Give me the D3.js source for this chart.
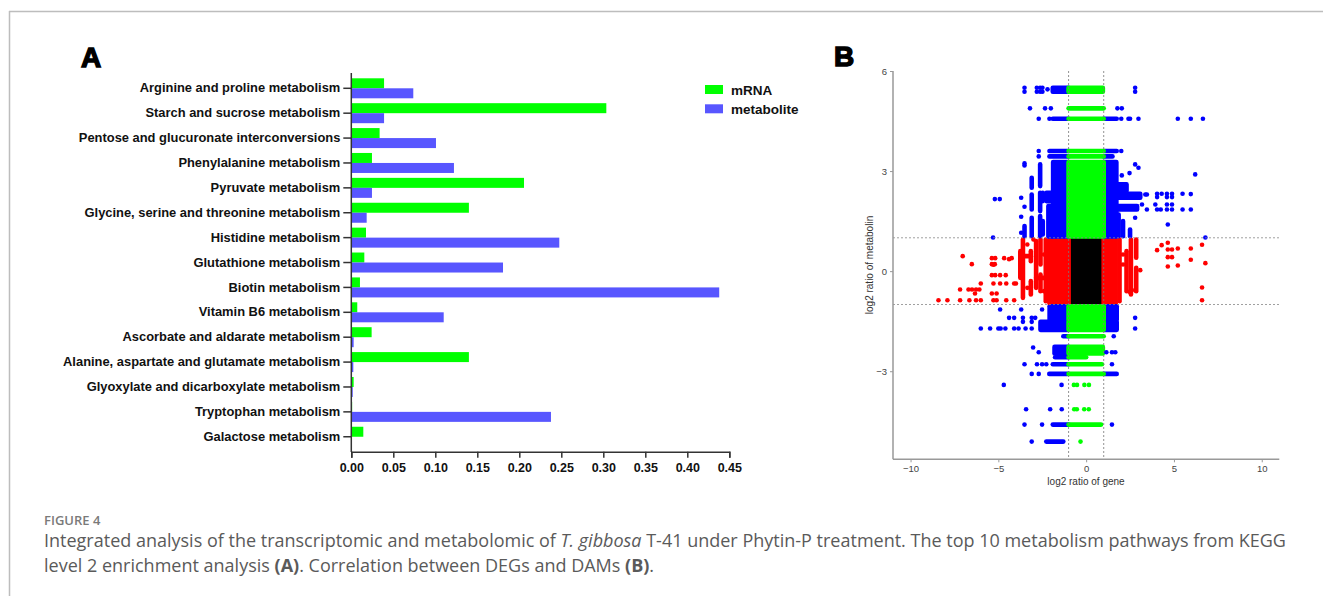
<!DOCTYPE html>
<html><head><meta charset="utf-8">
<script src="https://cdn.jsdelivr.net/npm/d3@7"></script>
<style>body{margin:0;background:#fff}svg{display:block}</style>
</head><body>
<svg id="fig" width="1323" height="596"></svg>
<script>
// ---------- Panel A data ----------
const categories = ["Arginine and proline metabolism","Starch and sucrose metabolism","Pentose and glucuronate interconversions","Phenylalanine metabolism","Pyruvate metabolism","Glycine, serine and threonine metabolism","Histidine metabolism","Glutathione metabolism","Biotin metabolism","Vitamin B6 metabolism","Ascorbate and aldarate metabolism","Alanine, aspartate and glutamate metabolism","Glyoxylate and dicarboxylate metabolism","Tryptophan metabolism","Galactose metabolism"];
const mrnaValues = [0.039,0.3036,0.0337,0.0246,0.2056,0.140,0.0175,0.0155,0.0103,0.0071,0.0242,0.140,0.0028,0.001,0.0143];
const metaboliteValues = [0.0738,0.039,0.1008,0.1222,0.0246,0.0183,0.2476,0.1806,0.438,0.110,0.0028,0.0024,0.0017,0.2377,0];
const xTicksA = [0,0.05,0.10,0.15,0.20,0.25,0.30,0.35,0.40,0.45];
const legendLabels = ["mRNA","metabolite"];

// ---------- Panel B data ----------
const xTicksB = [-10,-5,0,5,10];
const yTicksB = [-3,0,3,6];
const thresholds = [-1,1];
// dense clusters of overlapping points: [x0, x1, y0, y1]
const denseBlocks = [
  [-1.9,0.95,5.38,5.5],[-1.0,1.0,4.88,4.88],[-1.9,1.74,4.57,4.57],
  [-2.09,1.74,3.6,3.6],[-2.09,1.5,3.44,3.44],
  [-1.88,1.72,1.04,3.27],
  [-2.26,-1.88,2.1,2.35],[-2.15,-1.88,1.04,1.95],
  [-2.62,-2.62,1.05,1.65],[-2.62,-2.62,1.8,2.35],[-2.62,-2.62,2.55,3.2],
  [-2.47,-2.47,1.1,1.5],[-2.47,-2.47,2.1,2.35],
  [-3.1,-3.1,1.05,1.6],[-3.1,-3.1,1.85,2.3],[-3.1,-3.1,2.5,2.8],
  [-3.51,-3.51,1.05,1.35],
  [1.72,3.08,2.2,2.32],[1.72,2.9,1.85,1.95],[1.72,2.3,2.4,2.6],
  [1.85,1.85,1.05,1.7],[2.1,2.1,1.05,1.5],[2.5,2.5,1.05,1.25],
  // middle band
  [-2.05,1.68,-0.97,0.97],
  [-2.3,-2.3,-0.9,0.95],[-2.6,-2.6,0.2,0.95],[-2.6,-2.6,-0.6,-0.1],
  [-2.85,-2.85,-0.5,0.9],[-3.15,-3.15,0.3,0.6],[-3.15,-3.15,-0.7,-0.3],
  [-3.6,-3.6,-0.8,0.95],[-3.75,-3.75,-0.2,0.6],
  [-3.6,-3.15,0.45,0.45],[-2.85,-2.3,-0.2,-0.2],
  [1.9,1.9,-0.9,0.95],[2.3,2.3,-0.6,0.6],
  [2.55,2.55,-0.7,0.95],[2.85,2.85,0.4,0.95],[2.85,2.85,-0.6,0.1],
  // lower
  [-2.08,1.74,-1.45,-1.05],[-2.6,1.74,-1.76,-1.52],[-1.3,1.0,-1.95,-1.95],
  [-1.8,0.95,-2.47,-2.27],[-1.77,0.0,-2.58,-2.58],[-1.9,0.9,-2.79,-2.79],
  [-2.1,1.74,-3.08,-3.08],[-1.9,0.85,-4.6,-4.6],[-2.27,-1.3,-5.11,-5.11]
];
// isolated points: [x, y]
const sparsePoints = [
  [-3.51,5.5],[-3.51,5.38],[-2.81,5.5],[-2.81,5.38],[-2.62,5.5],[-2.62,5.38],[-2.49,5.5],[-2.49,5.38],[-2.2,5.45],[2.79,5.5],[2.79,5.38],
  [-3.2,4.88],[-2.34,4.88],[-2.01,4.88],[1.78,4.88],[2.03,4.88],
  [-2.7,4.57],[-2.09,4.57],[2.0,4.57],[2.41,4.57],[2.5,4.57],[2.98,4.57],[5.22,4.57],[5.96,4.57],[6.65,4.57],
  [-2.7,3.6],[2.0,3.6],[-2.7,3.44],
  [2.79,3.2],[2.98,3.1],[2.47,2.94],[2.03,2.87],[6.21,2.9],
  [2.89,2.3],[3.37,2.3],[3.46,2.3],[4.04,2.32],[4.3,2.32],[4.6,2.32],[4.89,2.32],[5.49,2.32],[5.96,2.31],
  [4.04,2.22],[4.6,2.22],[4.89,2.22],[3.18,2.0],[3.94,2.0],[4.6,2.0],[4.89,2.0],
  [3.46,1.85],[4.04,1.85],[4.25,1.85],[4.6,1.85],[4.89,1.85],[5.49,1.85],[5.96,1.85],
  [2.79,1.6],[4.65,1.4],[6.79,1.01],
  [-5.3,1.01],[-5.2,2.16],[-4.92,2.16],[-3.7,2.2],[-3.7,1.63],[-3.51,1.93],[-3.51,3.23],[-3.51,3.17],[-3.7,1.15],
  // middle band
  [-7.03,0.45],[-6.51,0.21],[-5.37,0.39],[-5.18,0.39],[-4.67,0.39],[-4.39,0.36],[-4.24,0.39],[-5.37,0.21],[-5.2,0.21],
  [4.04,0.63],[4.3,0.78],[4.65,0.85],[4.65,0.65],[4.89,0.65],[5.22,0.68],[5.96,0.68],[6.6,0.79],
  [4.65,0.42],[4.89,0.42],[5.96,0.34],[6.79,0.24],[4.65,0.14],[5.22,0.17],
  [-8.41,-0.87],[-7.9,-0.87],[-7.18,-0.55],[-7.18,-0.87],[-6.7,-0.55],[-6.5,-0.55],[-6.27,-0.55],[-6.08,-0.55],
  [-6.33,-0.67],[-6.0,-0.37],[-6.65,-0.87],[-6.27,-0.87],[-6.0,-0.87],[-5.28,0.19],
  [-5.37,-0.12],[-5.18,-0.12],[-4.9,-0.12],[-4.58,-0.12],[-5.28,-0.37],[-4.9,-0.37],[-4.55,-0.37],[-4.1,-0.37],[-4.0,-0.37],
  [-5.37,-0.67],[-5.1,-0.67],[-5.28,-0.87],[-5.1,-0.87],[-4.55,-0.87],[-4.1,-0.87],
  [-3.35,0.8],[-3.35,-0.5],[-2.4,-0.6],[-2.4,0.5],[-3.0,0.95],[-2.1,-0.95],
  [6.6,-0.49],[6.6,-0.87],[3.08,0.03],[2.47,-0.62],[2.79,-0.57],[2.1,0.5],[2.1,0.2],
  // lower
  [-4.9,-1.15],[-3.7,-1.15],[-2.51,-1.15],
  [-4.39,-1.4],[-4.1,-1.4],[-3.6,-1.4],[-3.1,-1.4],[-2.9,-1.4],[2.79,-1.4],
  [-3.6,-1.52],[-3.1,-1.52],
  [-6.0,-1.72],[-5.47,-1.72],[-5.0,-1.72],[-4.87,-1.72],[-4.6,-1.72],[-4.1,-1.72],[-3.85,-1.72],[-3.45,-1.72],[-3.1,-1.72],[2.79,-1.72],
  [1.57,-1.95],[-3.02,-2.29],[0.9,-2.29],
  [-2.7,-2.43],[1.15,-2.43],[1.47,-2.43],[1.66,-2.43],
  [-3.51,-2.79],[-2.8,-2.79],[-2.51,-2.79],[-2.27,-2.79],[1.47,-2.79],
  [-3.1,-3.08],[-2.7,-3.08],
  [-4.69,-3.41],[-1.4,-3.41],[-0.7,-3.41],[-0.52,-3.41],[-0.1,-3.41],[0.16,-3.41],
  [-3.42,-4.14],[-2.05,-4.14],[-1.39,-4.14],[-0.68,-4.14],[-0.53,-4.14],[-0.11,-4.14],[0.15,-4.14],
  [-3.51,-4.6],[-2.51,-4.6],[1.47,-4.6],
  [-3.1,-5.11],[-0.32,-5.11]
];

const svg = d3.select("#fig");
const AF = "'Liberation Sans', Arial, sans-serif";

// frame
svg.append("line").attr("x1",9).attr("x2",1323).attr("y1",11.5).attr("y2",11.5).attr("stroke","#bdbdbd").attr("stroke-width",1.5);
svg.append("line").attr("x1",9.5).attr("x2",9.5).attr("y1",11).attr("y2",596).attr("stroke","#bdbdbd").attr("stroke-width",1.5);

// ---------- Panel A ----------
const gA = svg.append("g");
gA.append("text").attr("x",81).attr("y",67).text("A").attr("font-family",AF).attr("font-weight","bold")
  .attr("font-size",28).attr("stroke","#000").attr("stroke-width",1.4);

const xA = d3.scaleLinear().domain([0,0.45]).range([351.3,729.3]);
const yA = d3.scaleBand().domain(categories).range([75.85,449.2]);
const barH = 10;
const colA = {mRNA:"#00ff00", metabolite:"#5856ff"};

gA.selectAll("rect.m").data(categories).join("rect")
  .attr("x",xA(0)).attr("y",d=>yA(d)+yA.bandwidth()/2-barH)
  .attr("width",(d,i)=>xA(mrnaValues[i])-xA(0)).attr("height",barH).attr("fill",colA.mRNA);
gA.selectAll("rect.b").data(categories).join("rect")
  .attr("x",xA(0)).attr("y",d=>yA(d)+yA.bandwidth()/2)
  .attr("width",(d,i)=>xA(metaboliteValues[i])-xA(0)).attr("height",barH).attr("fill",colA.metabolite);

const yAxisA = gA.append("g").attr("transform","translate(351.3,0)")
  .call(d3.axisLeft(yA).tickSize(8).tickPadding(3));
yAxisA.select(".domain").remove();
yAxisA.selectAll("line").attr("stroke","#333").attr("stroke-width",1.5);
yAxisA.selectAll("text").attr("font-family",AF).attr("font-weight","bold").attr("font-size",12.9).attr("fill","#111");
gA.append("line").attr("x1",351.3).attr("x2",351.3).attr("y1",73).attr("y2",452).attr("stroke","#333").attr("stroke-width",1.5);

const xAxisA = gA.append("g").attr("transform","translate(0,451.7)")
  .call(d3.axisBottom(xA).tickValues(xTicksA).tickFormat(d3.format(".2f")).tickSize(6).tickPadding(5));
xAxisA.select(".domain").attr("stroke","#333").attr("stroke-width",1.5);
xAxisA.selectAll("line").attr("stroke","#333").attr("stroke-width",1.5);
xAxisA.selectAll("text").attr("font-family",AF).attr("font-weight","bold").attr("font-size",12.5).attr("fill","#111");

const leg = gA.append("g");
legendLabels.forEach((l,i)=>{
  leg.append("rect").attr("x",705).attr("y",85+i*19.3).attr("width",18).attr("height",9).attr("fill",colA[l]);
  leg.append("text").attr("x",731).attr("y",94.5+i*19.3).text(l).attr("font-family",AF).attr("font-weight","bold").attr("font-size",13.5).attr("fill","#111");
});

// ---------- Panel B ----------
const gB = svg.append("g");
gB.append("text").attr("x",834).attr("y",66).text("B").attr("font-family",AF).attr("font-weight","bold")
  .attr("font-size",28).attr("stroke","#000").attr("stroke-width",1.4);

const xB = d3.scaleLinear().domain([-11,11]).range([893,1279.3]);
const yB = d3.scaleLinear().domain([-5.64,6]).range([459.3,71]);
const r = 2.3;
const colorOf = (x,y)=>{
  const ox = Math.abs(x)>1, oy = Math.abs(y)>1;
  if(ox&&oy) return "#0000ff";
  if(oy) return "#00ff00";
  if(ox) return "#ff0000";
  return "#000000";
};
const order = {"#000000":0,"#ff0000":1,"#0000ff":2,"#00ff00":3};
// split blocks at thresholds so each piece takes its quadrant colour
let pieces = [];
denseBlocks.forEach(([x0,x1,y0,y1])=>{
  const xs=[x0,...thresholds.filter(t=>t>x0&&t<x1),x1];
  const ys=[y0,...thresholds.filter(t=>t>y0&&t<y1),y1];
  const xi = d3.range(xs.length-1).map(i=>[xs[i],xs[i+1]]);
  const yi = d3.range(ys.length-1).map(i=>[ys[i],ys[i+1]]);
  xi.forEach(([a,b])=>yi.forEach(([c,d])=>{
    pieces.push({a,b,c,d,col:colorOf((a+b)/2,(c+d)/2)});
  }));
});
pieces.sort((p,q)=>order[p.col]-order[q.col]);
const pts = sparsePoints.map(([x,y])=>({x,y,col:colorOf(x,y)}));

const plot = gB.append("g");
plot.selectAll("rect").data(pieces).join("rect")
  .attr("x",p=>xB(p.a)-r).attr("y",p=>yB(p.d)-r)
  .attr("width",p=>xB(p.b)-xB(p.a)+2*r).attr("height",p=>yB(p.c)-yB(p.d)+2*r)
  .attr("rx",r).attr("fill",p=>p.col);
plot.selectAll("circle").data(pts).join("circle")
  .attr("cx",p=>xB(p.x)).attr("cy",p=>yB(p.y)).attr("r",r).attr("fill",p=>p.col);

// threshold lines
thresholds.forEach(t=>{
  gB.append("line").attr("x1",xB(t)).attr("x2",xB(t)).attr("y1",71).attr("y2",459.3)
    .attr("stroke","#777").attr("stroke-width",0.8).attr("stroke-dasharray","2,2");
  gB.append("line").attr("x1",893).attr("x2",1279.3).attr("y1",yB(t)).attr("y2",yB(t))
    .attr("stroke","#888").attr("stroke-width",0.8).attr("stroke-dasharray","2,2");
});

const minusFmt = d=>d<0?"\u2212"+Math.abs(d):String(d);
const axB = gB.append("g").attr("transform","translate(0,459.3)")
  .call(d3.axisBottom(xB).tickValues(xTicksB).tickFormat(minusFmt).tickSize(3).tickPadding(3));
axB.select(".domain").attr("stroke","#999").attr("stroke-width",1.5).attr("d","M893,0H1279.3");
axB.selectAll("line").attr("stroke","#999");
axB.selectAll("text").attr("font-family",AF).attr("font-size",9.5).attr("fill","#444");
const ayB = gB.append("g").attr("transform","translate(893,0)")
  .call(d3.axisLeft(yB).tickValues(yTicksB).tickFormat(minusFmt).tickSize(3).tickPadding(3));
ayB.select(".domain").attr("stroke","#999").attr("stroke-width",1.5).attr("d","M0,71V459.3");
ayB.selectAll("line").attr("stroke","#999");
ayB.selectAll("text").attr("font-family",AF).attr("font-size",9.5).attr("fill","#444");

gB.append("text").attr("x",1086).attr("y",485).attr("text-anchor","middle").text("log2 ratio of gene")
  .attr("font-family",AF).attr("font-size",10).attr("fill","#333");
gB.append("text").attr("transform","translate(873,265) rotate(-90)").attr("text-anchor","middle").text("log2 ratio of metabolin")
  .attr("font-family",AF).attr("font-size",10).attr("fill","#333");

// ---------- Caption ----------
const CF = "'Open Sans', 'Noto Sans', sans-serif";
svg.append("text").attr("x",44).attr("y",525).text("FIGURE 4").attr("font-family",CF).attr("font-size",13)
  .attr("font-weight",600).attr("fill","#7a7a7a");
const l1 = svg.append("text").attr("x",44).attr("y",547).attr("font-family",CF).attr("font-size",18).attr("fill","#5a5a5a");
l1.append("tspan").text("Integrated analysis of the transcriptomic and metabolomic of ");
l1.append("tspan").attr("font-style","italic").text("T. gibbosa");
l1.append("tspan").text(" T-41 under Phytin-P treatment. The top 10 metabolism pathways from KEGG");
const l2 = svg.append("text").attr("x",44).attr("y",572).attr("font-family",CF).attr("font-size",18).attr("fill","#5a5a5a");
l2.append("tspan").text("level 2 enrichment analysis ");
l2.append("tspan").attr("font-weight","bold").text("(A)");
l2.append("tspan").text(". Correlation between DEGs and DAMs ");
l2.append("tspan").attr("font-weight","bold").text("(B)");
l2.append("tspan").text(".");
</script>
</body></html>
